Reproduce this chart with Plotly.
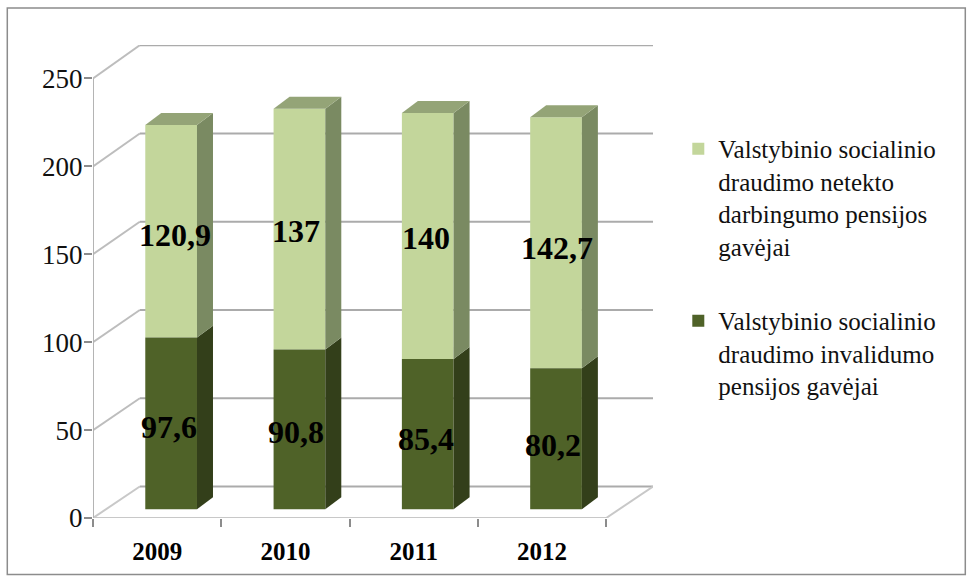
import plotly.graph_objects as go

# ---------- data ----------
categories = ["2009", "2010", "2011", "2012"]
invalidumo = [97.6, 90.8, 85.4, 80.2]
netekto = [120.9, 137, 140, 142.7]
invalidumo_labels = ["97,6", "90,8", "85,4", "80,2"]
netekto_labels = ["120,9", "137", "140", "142,7"]
y_ticks = [0, 50, 100, 150, 200, 250]
name_netekto = "Valstybinio socialinio<br>draudimo netekto<br>darbingumo pensijos<br>gavėjai"
name_invalidumo = "Valstybinio socialinio<br>draudimo invalidumo<br>pensijos gavėjai"

# ---------- geometry / style ----------
W, H = 970, 582
PL, PR, PT, PB = 92.7, 652.7, 45.0, 518.5   # plot box in px
PX_X = 128.3                               # px per category
PX_Y = 1.76                                # px per value unit
X0 = -0.5
X1 = X0 + (PR - PL) / PX_X
Y1 = (PB - PT) / PX_Y
FLOOR_DX = (PR - PL) / PX_X - 4            # wall depth in category units
FLOOR_DY = 17.9                            # wall depth in value units
WALL_SCALE = 1.004
BAR_SHIFT = 0.109
BAR_W = 0.403
BAR_BASE = 5.0
DEPTH_X = 16 / PX_X
DEPTH_Y = 12 / PX_Y
LIGHT, LIGHT_SIDE, LIGHT_TOP = "#C3D69B", "#7A8A62", "#94A477"
DARK, DARK_SIDE = "#4F6228", "#333F1A"
GRID = "#ABABAB"
FLOOR = "#C8C8C8"
SERIF = "Liberation Serif"
LABEL_DX_LIGHT = [4, -3, -2, 1]
LABEL_DX_DARK = [-2, -3, -2, -3]
LABEL_DY_LIGHT = [-4, -2, -2, -5]
LABEL_DY_DARK = [-4, -3, -5, -6]

xpos = [i + BAR_SHIFT for i in range(len(categories))]
base_dark = [BAR_BASE] * len(categories)
base_light = [b + v for b, v in zip(base_dark, invalidumo)]
top_light = [b + v for b, v in zip(base_light, netekto)]

fig = go.Figure()
fig.add_trace(go.Bar(x=xpos, y=netekto, base=base_light, width=BAR_W, name=name_netekto,
                     marker=dict(color=LIGHT, line=dict(width=0)), legendgroup="a", hoverinfo="skip"))
fig.add_trace(go.Bar(x=xpos, y=invalidumo, base=base_dark, width=BAR_W, name=name_invalidumo,
                     marker=dict(color=DARK, line=dict(width=0)), legendgroup="b", hoverinfo="skip"))


def face(xs, ys, color):
    fig.add_trace(go.Scatter(x=xs, y=ys, mode="lines", fill="toself", fillcolor=color,
                             line=dict(width=0, color=color), showlegend=False, hoverinfo="skip"))


for x, b0, b1, b2 in zip(xpos, base_dark, base_light, top_light):
    r = x + BAR_W / 2
    l = x - BAR_W / 2
    face([r, r + DEPTH_X, r + DEPTH_X, r, r], [b0, b0 + DEPTH_Y, b1 + DEPTH_Y, b1, b0], DARK_SIDE)
    face([r, r + DEPTH_X, r + DEPTH_X, r, r], [b1, b1 + DEPTH_Y, b2 + DEPTH_Y, b2, b1], LIGHT_SIDE)
    face([l, l + DEPTH_X, r + DEPTH_X, r, l], [b2, b2 + DEPTH_Y, b2 + DEPTH_Y, b2, b2], LIGHT_TOP)

shapes = []


def seg(x0, y0, x1, y1, color=GRID, width=2):
    shapes.append(dict(type="line", xref="x", yref="y", x0=x0, y0=y0, x1=x1, y1=y1,
                       layer="below", line=dict(color=color, width=width)))


front_r = X0 + len(categories)
for v in y_ticks:
    by = v * WALL_SCALE + FLOOR_DY
    seg(X0, v, X0 + FLOOR_DX, by, FLOOR if v == 0 else "#BDBDBD")
    seg(X0 + FLOOR_DX, by, X1, by)
seg(X0, 0, front_r, 0, FLOOR)
seg(front_r, 0, X1, FLOOR_DY, FLOOR)
seg(X0, 0, X0, y_ticks[-1], "#B4B4B4", 2)
# outer frame
shapes.append(dict(type="rect", xref="paper", yref="paper",
                   x0=(7 - PL) / (PR - PL), x1=(965 - PL) / (PR - PL),
                   y0=(PB - 575) / (PB - PT), y1=(PB - 8) / (PB - PT),
                   layer="below", line=dict(color="#8C8C8C", width=1.5)))

annotations = []
label_font = dict(family=SERIF, size=32, color="black")
for i, x in enumerate(xpos):
    annotations.append(dict(x=x, y=base_dark[i] + invalidumo[i] / 2, text="<b>%s</b>" % invalidumo_labels[i],
                            showarrow=False, font=label_font, xshift=LABEL_DX_DARK[i], yshift=LABEL_DY_DARK[i]))
    annotations.append(dict(x=x, y=base_light[i] + netekto[i] / 2, text="<b>%s</b>" % netekto_labels[i],
                            showarrow=False, font=label_font, xshift=LABEL_DX_LIGHT[i], yshift=LABEL_DY_LIGHT[i]))

fig.update_layout(
    width=W, height=H, autosize=False,
    margin=dict(l=PL, r=W - PR, t=PT, b=H - PB, pad=0),
    paper_bgcolor="white", plot_bgcolor="white",
    barmode="overlay", shapes=shapes, annotations=annotations,
    xaxis=dict(range=[X0, X1], tickmode="array", tickvals=list(range(len(categories))), ticktext=categories,
               automargin=False,
               showgrid=False, zeroline=False, showline=False, ticks="outside", ticklen=11, tickcolor="rgba(0,0,0,0)",
               tickfont=dict(family=SERIF, size=25, color="black", weight="bold"),
               minor=dict(tickmode="array", tickvals=[X0 + i for i in range(len(categories) + 1)],
                          ticks="outside", ticklen=8, tickcolor="#8C8C8C", tickwidth=1.5, showgrid=False)),
    yaxis=dict(range=[0, Y1], tickmode="array", tickvals=y_ticks, showgrid=False, zeroline=False, showline=False,
               automargin=False, ticklabelstandoff=-4,
               ticks="outside", ticklen=8, tickcolor="#8C8C8C", tickwidth=1.5,
               tickfont=dict(family=SERIF, size=27, color="#111111")),
    legend=dict(x=(678 - PL) / (PR - PL), y=(PB - 126) / (PB - PT), xanchor="left", yanchor="top",
                traceorder="grouped", tracegroupgap=39, valign="top", bgcolor="rgba(0,0,0,0)",
                font=dict(family=SERIF, size=25, color="#111111"), itemclick=False, itemdoubleclick=False),
    hovermode=False,
)
fig.write_html("out.html", post_script="document.body.style.margin='0';",
               config=dict(displayModeBar=False))
